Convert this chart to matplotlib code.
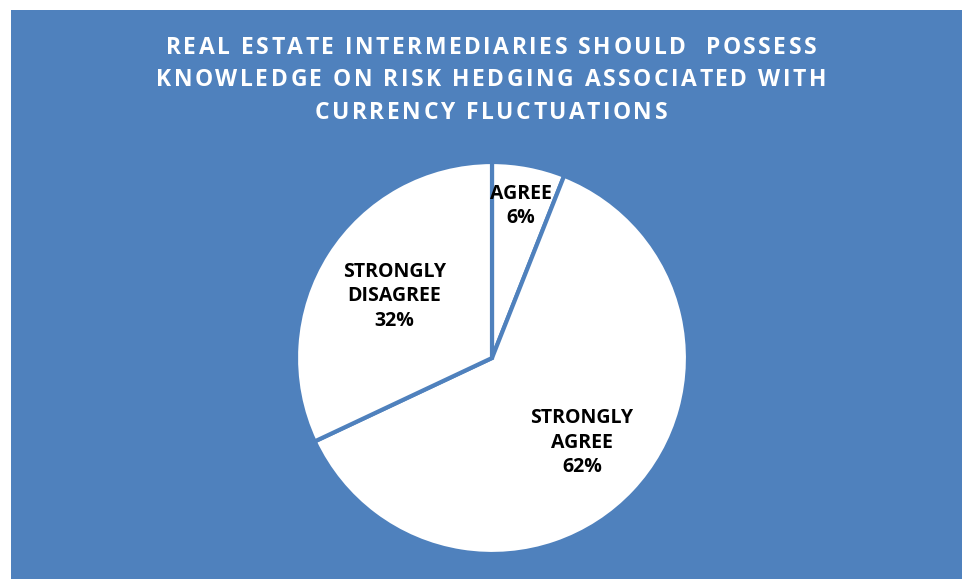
import matplotlib
matplotlib.use("Agg")
import matplotlib.pyplot as plt
import numpy as np
from matplotlib import font_manager, ft2font
from matplotlib.font_manager import FontProperties

# survey answers, clockwise from 12 o'clock
answers = ["AGREE", "STRONGLY\nAGREE", "STRONGLY\nDISAGREE"]
shares = [6, 62, 32]
title_lines = [
    "REAL ESTATE INTERMEDIARIES SHOULD  POSSESS",
    "KNOWLEDGE ON RISK HEDGING ASSOCIATED WITH",
    "CURRENCY FLUCTUATIONS",
]

blue = "#4F81BD"
W, H = 963, 579
title_size = 16.5
tracking = 2.5  # extra px between letters (title is letter-spaced)

fig = plt.figure(figsize=(W / 100, H / 100), dpi=100)
fig.patch.set_facecolor("white")

# blue chart area with thin white margin top/left
bg = fig.add_axes([11 / W, 0, (962 - 11) / W, (H - 10) / H])
bg.set_facecolor(blue)
bg.set_xticks([])
bg.set_yticks([])
for s in bg.spines.values():
    s.set_visible(False)

# letter spaced title, glyph advances from the font itself
fp = FontProperties(family="Open Sans", weight="bold")
ft = ft2font.FT2Font(font_manager.findfont(fp))
ft.set_size(title_size, 100)


def advance(ch):
    g = ft.load_char(ord(ch))
    return g.linearHoriAdvance / 65536


for i, line in enumerate(title_lines):
    advs = [advance(c) for c in line]
    total = sum(advs) + tracking * (len(line) - 1)
    x = 491 - total / 2
    y = 1 - (48 + i * 32.5) / H
    for c, a in zip(line, advs):
        if c != " ":
            fig.text(x / W, y, c, ha="left", va="center", color="white",
                     fontproperties=fp, fontsize=title_size)
        x += a + tracking

cx, cy, r = 492, 358, 196
ax = fig.add_axes([(cx - r) / W, (H - cy - r) / H, 2 * r / W, 2 * r / H])
ax.set_facecolor("none")
wedges, _ = ax.pie(shares, startangle=90, counterclock=False, colors=["white"] * 3,
                   wedgeprops=dict(edgecolor=blue, linewidth=3))
ax.set_xlim(-1, 1)
ax.set_ylim(-1, 1)
ax.set_aspect("equal")
ax.axis("off")

label_dist = [0.79, 0.63, 0.59]
for w, name, pct, d in zip(wedges, answers, shares, label_dist):
    ang = np.deg2rad((w.theta1 + w.theta2) / 2)
    ax.text(d * np.cos(ang), d * np.sin(ang), f"{name}\n{pct}%", ha="center",
            va="center", fontsize=14, fontweight="bold", family="Open Sans",
            linespacing=1.3, color="black")

fig.savefig("out.png", dpi=100)
